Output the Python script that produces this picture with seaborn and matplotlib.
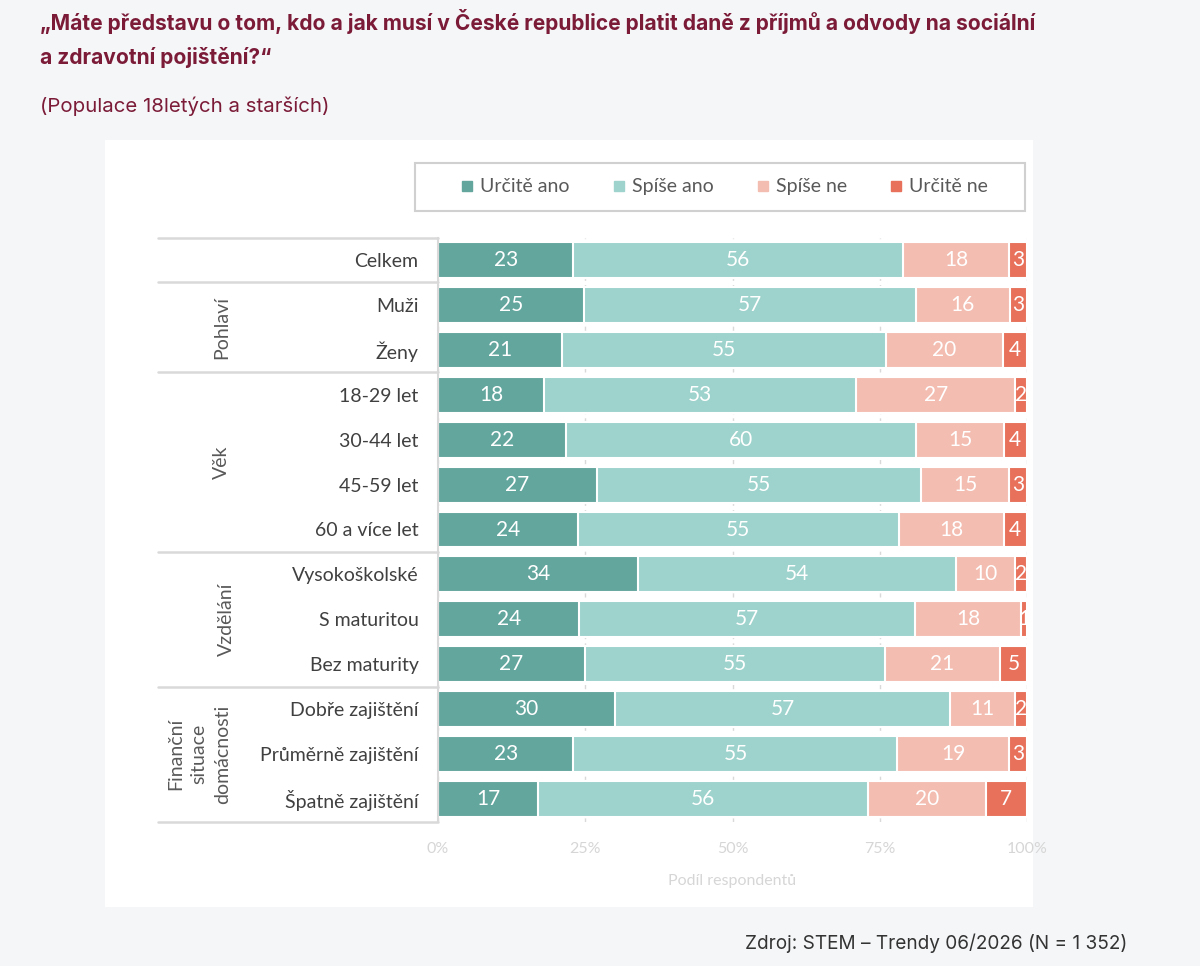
import matplotlib
matplotlib.use("Agg")
import matplotlib.pyplot as plt
from matplotlib.patches import Rectangle
from matplotlib.lines import Line2D
import seaborn as sns
import pandas as pd
import numpy as np

# ---- data ----
categories = ["Celkem", "Muži", "Ženy", "18-29 let", "30-44 let", "45-59 let",
              "60 a více let", "Vysokoškolské", "S maturitou", "Bez maturity",
              "Dobře zajištění", "Průměrně zajištění", "Špatně zajištění"]
series_names = ["Určitě ano", "Spíše ano", "Spíše ne", "Určitě ne"]
urcite_ano = [23, 25, 21, 18, 22, 27, 24, 34, 24, 27, 30, 23, 17]
spise_ano = [56, 57, 55, 53, 60, 55, 55, 54, 57, 55, 57, 55, 56]
spise_ne = [18, 16, 20, 27, 15, 15, 18, 10, 18, 21, 11, 19, 20]
urcite_ne = [3, 3, 4, 2, 4, 3, 4, 2, 1, 5, 2, 3, 7]
groups = ["Pohlaví", "Věk", "Vzdělání", "Finanční\nsituace\ndomácnosti"]
group_spans = [(1, 2), (3, 6), (7, 9), (10, 12)]
x_ticks = [0, 25, 50, 75, 100]
x_ticklabels = ["0%", "25%", "50%", "75%", "100%"]
colors = ["#63a69e", "#9dd3cc", "#f4bdb1", "#e8715b"]

title1 = "„Máte představu o tom, kdo a jak musí v České republice platit daně z příjmů a odvody na sociální"
title2 = "a zdravotní pojištění?“"
subtitle = "(Populace 18letých a starších)"
source = "Zdroj: STEM – Trendy 06/2026 (N = 1 352)"
xlabel = "Podíl respondentů"

raw = np.array([urcite_ano, spise_ano, spise_ne, urcite_ne], dtype=float)
norm = raw / raw.sum(axis=0) * 100
cum = np.cumsum(norm, axis=0)

sns.set_theme(style="white")
plt.rcParams["font.family"] = ["Lato", "DejaVu Sans"]

W, H = 1200, 966
fig = plt.figure(figsize=(W / 100, H / 100), dpi=100)
fig.patch.set_facecolor("#f5f6f8")
fig.patches.append(Rectangle((105 / W, 1 - 907 / H), (1033 - 105) / W, (907 - 140) / H,
                             transform=fig.transFigure, facecolor="white",
                             edgecolor="none", zorder=-10))

ax_l, ax_r = 438 / W, 1027 / W
ax_t, ax_b = 1 - 237.5 / H, 1 - 821.5 / H
ax = fig.add_axes([ax_l, ax_b, ax_r - ax_l, ax_t - ax_b])
ax.set_facecolor("none")
ax.set_zorder(2)

for k in range(3, -1, -1):
    df = pd.DataFrame({"category": categories, "value": cum[k]})
    sns.barplot(data=df, x="value", y="category", order=categories, color=colors[k],
                width=0.8, edgecolor="white", linewidth=1.5, saturation=1,
                errorbar=None, ax=ax, zorder=2)

for k in range(4):
    for i in range(len(categories)):
        cx = cum[k][i] - norm[k][i] / 2
        ax.text(cx, i, f"{int(raw[k][i])}", ha="center", va="center", color="white",
                fontsize=15, clip_on=True, zorder=5)

ax.set_xlim(0, 100)
ax.set_ylim(len(categories) - 0.5, -0.5)
ax.set_xticks(x_ticks)
ax.set_xticklabels(x_ticklabels, color="#d6d6d6", fontsize=11.5)
ax.set_xlabel(xlabel, color="#d6d6d6", fontsize=11.5, labelpad=13)
ax.set_ylabel("")
ax.tick_params(axis="x", length=0, pad=15)
ax.tick_params(axis="y", length=0, pad=14, labelsize=14, labelcolor="#404040")
ax.xaxis.grid(True, linestyle=(0, (3, 3)), color="#d9d9d9", linewidth=1)
ax.yaxis.grid(False)
ax.set_axisbelow(True)
for s in ["top", "right", "bottom"]:
    ax.spines[s].set_visible(False)
ax.spines["left"].set_color("#d9d9d9")
ax.spines["left"].set_linewidth(1.5)

# table lines
ytr = ax.get_yaxis_transform()
x_left = (158 - 438) / (1027 - 438)
for yb in [-0.5, 0.5, 2.5, 6.5, 9.5, 12.5]:
    ax.add_line(Line2D([x_left, 0], [yb, yb], transform=ytr, color="#d9d9d9",
                       linewidth=1.8, clip_on=False))

group_x = [-0.367, -0.367, -0.36, -0.406]
for g, (a, b), gx in zip(groups, group_spans, group_x):
    ax.text(gx, (a + b) / 2, g, transform=ytr, rotation=90, ha="center", va="center",
            multialignment="center", fontsize=14, color="#595959", linespacing=1.45)

# legend
lx0, lx1, ly0, ly1 = 415, 1025, 163, 211
fig.patches.append(Rectangle((lx0 / W, 1 - ly1 / H), (lx1 - lx0) / W, (ly1 - ly0) / H,
                             transform=fig.transFigure, facecolor="white",
                             edgecolor="#d0d0d0", linewidth=1.5, zorder=1))
handles = [Line2D([], [], marker="s", linestyle="none", markersize=7,
                  markerfacecolor=c, markeredgecolor=c) for c in colors]
fig.legend(handles, series_names, loc="center", ncol=4,
           bbox_to_anchor=((lx0 + lx1) / 2 / W + 0.004, 1 - (ly0 + ly1) / 2 / H),
           frameon=False, fontsize=14, labelcolor="#595959",
           handlelength=0.6, handletextpad=0.35, columnspacing=2.25)

# titles
tfam = ["Inter", "DejaVu Sans"]
fig.text(40 / W, 1 - 22 / H, title1, ha="left", va="center", fontsize=15.1,
         fontweight="bold", color="#7b1b38", family=tfam)
fig.text(40 / W, 1 - 58 / H, title2, ha="left", va="center", fontsize=15.1,
         fontweight="bold", color="#7b1b38", family=tfam)
fig.text(40 / W, 1 - 106 / H, subtitle, ha="left", va="center", fontsize=14.7,
         color="#7b1b38", family=tfam)
fig.text(1127 / W, 1 - 943 / H, source, ha="right", va="center", fontsize=13.7,
         color="#333333", family=tfam)

fig.savefig("out.png", dpi=100, facecolor=fig.get_facecolor())
